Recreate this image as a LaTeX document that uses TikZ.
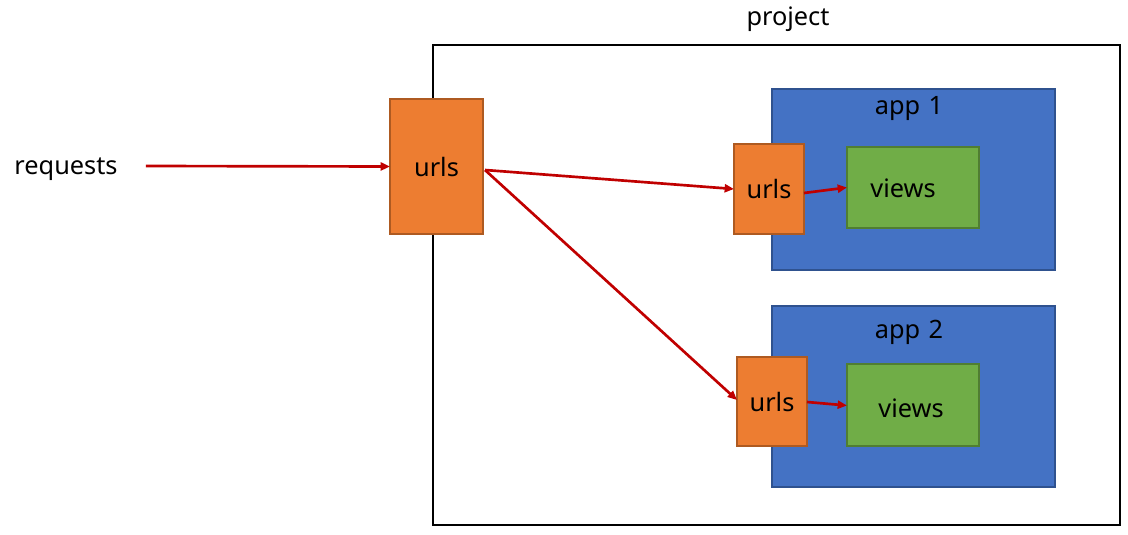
\documentclass[tikz,border=0pt]{standalone}
\usepackage{fontspec}
\setmainfont{Noto Sans}
\usetikzlibrary{arrows.meta,calc}
\definecolor{orangefill}{HTML}{ED7D31}
\definecolor{orangeedge}{HTML}{AE5A21}
\definecolor{bluefill}{HTML}{4472C4}
\definecolor{blueedge}{HTML}{2F528F}
\definecolor{greenfill}{HTML}{70AD47}
\definecolor{greenedge}{HTML}{507E32}
\definecolor{arrowred}{HTML}{C00000}
\tikzset{
  box/.style={rectangle, inner sep=0pt, outer sep=0pt, line width=1.1pt},
  urlbox/.style={box, fill=orangefill, draw=orangeedge, font=\fontsize{19}{22}\selectfont},
  appbox/.style={box, fill=bluefill, draw=blueedge, minimum width=212.25pt, minimum height=135.75pt},
  viewbox/.style={box, fill=greenfill, draw=greenedge, minimum width=99pt},
  lbl/.style={inner sep=0pt, font=\fontsize{19}{22}\selectfont},
  flow/.style={draw=arrowred, line width=2pt, -{Triangle[length=7pt,width=6pt]}}
}
\begin{document}
\begin{tikzpicture}[x=0.75pt,y=-0.75pt]
\useasboundingbox (0,0) rectangle (1128,535);
% project frame
\node[box, draw=black, line width=1.5pt, minimum width=515.25pt, minimum height=360pt] (project) at (776.5,285) {};
\node[lbl] (projectlbl) at (788,19) {project};
% apps
\node[appbox] (app1) at (913.5,179.5) {};
\node[lbl] (app1lbl) at (909,108) {app\,\,1};
\node[appbox] (app2) at (913.5,396.5) {};
\node[lbl] (app2lbl) at (909,332) {app\,\,2};
% views
\node[viewbox, minimum height=60.75pt] (views1) at (913,187.5) {};
\node[lbl] (views1lbl) at (903,188) {views};
\node[viewbox, minimum height=61.5pt] (views2) at (913,405) {};
\node[lbl] (views2lbl) at (911,408) {views};
% urls
\node[urlbox, minimum width=69.75pt, minimum height=101.25pt] (main) at (436.5,166.5) {urls};
\node[urlbox, minimum width=52.5pt, minimum height=67.5pt] (urls1) at (769,189) {urls};
\node[urlbox, minimum width=52.5pt, minimum height=66.75pt] (urls2) at (772,401.5) {urls};
% requests
\node[lbl] (req) at (66,169) {requests};
\coordinate (reqstart) at ($(req.east)+(28,-3)$);
\coordinate (mainout) at ($(main.east)+(2,3.5)$);
% connectors
\draw[flow] (reqstart) -- (main.west);
\draw[flow] (mainout) -- (urls1.west);
\draw[flow] (mainout) -- ($(urls2.west)+(0,-1.5)$);
\draw[flow] ($(urls1.east)+(0,4)$) -- (views1.west);
\draw[flow] ($(urls2.east)+(0,0.5)$) -- ($(views2.west)+(0,0.5)$);
\end{tikzpicture}
\end{document}
